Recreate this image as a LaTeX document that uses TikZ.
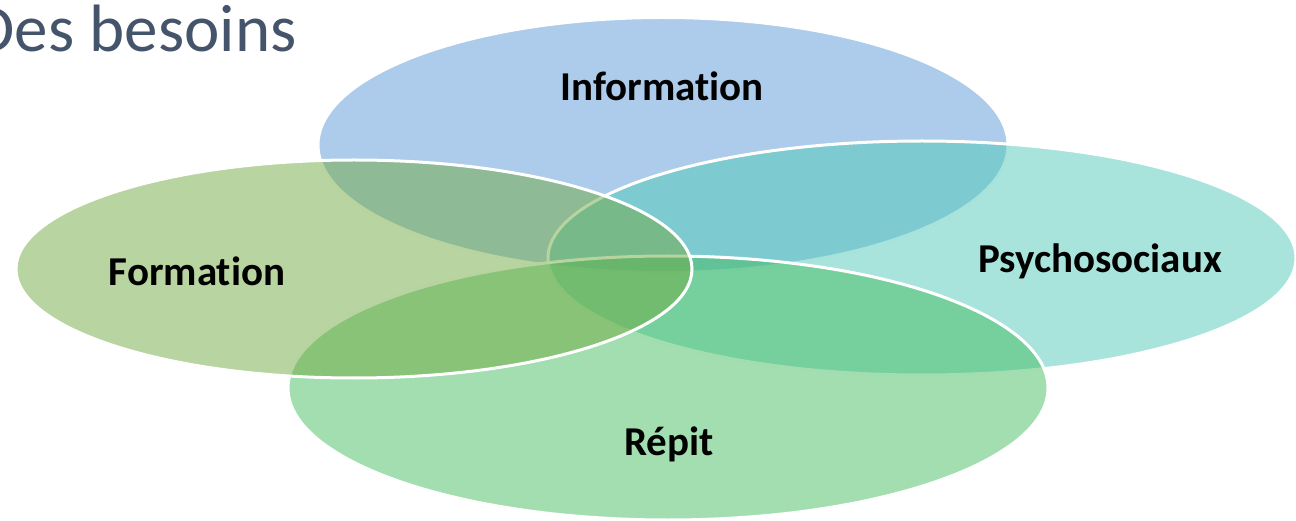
\documentclass[tikz,border=0pt]{standalone}
\usepackage{fontspec}
\setmainfont{Carlito}[Ligatures=NoCommon]
\definecolor{titletext}{HTML}{44546A}
\definecolor{infoblue}{HTML}{5B97D5}
\definecolor{psyteal}{HTML}{51C9B9}
\definecolor{repitgreen}{HTML}{45BD61}
\definecolor{formgreen}{HTML}{71A941}
\usetikzlibrary{shapes.geometric}
\tikzset{
    besoin/.style = {
      ellipse,
      draw = white,
      line width = 3pt,
      fill opacity = 0.5,
      inner sep = 0pt,
    },
    label/.style = {
      font=\fontsize{41}{48}\selectfont\bfseries,
      text=black
    },
    titre/.style = {
      font=\fontsize{67}{76}\selectfont,
      text=titletext
    }
}
\begin{document}
\begin{tikzpicture}[x=1pt, y=-1pt]
      \useasboundingbox (0,0) rectangle (1296,521);
      \clip (0,0) rectangle (1296,521);
      \node[titre, anchor=base east] (T) at (300,52) {Des besoins};

      \node[besoin, fill=infoblue,   minimum width=690pt, minimum height=255pt] (I) at (663,145) {};
      \node[besoin, fill=psyteal,    minimum width=748pt, minimum height=234pt] (P) at (922,258) {};
      \node[besoin, fill=repitgreen, minimum width=760pt, minimum height=264pt] (R) at (668,388) {};
      \node[besoin, fill=formgreen,  minimum width=676pt, minimum height=218pt] (F) at (354,269) {};

      \node[label] (LI) at (662,86)  {Information};
      \node[label] (LP) at (1100,261) {Psychosociaux};
      \node[label] (LR) at (669,444) {Répit};
      \node[label] (LF) at (197,271) {Formation};
\end{tikzpicture}
\end{document}
